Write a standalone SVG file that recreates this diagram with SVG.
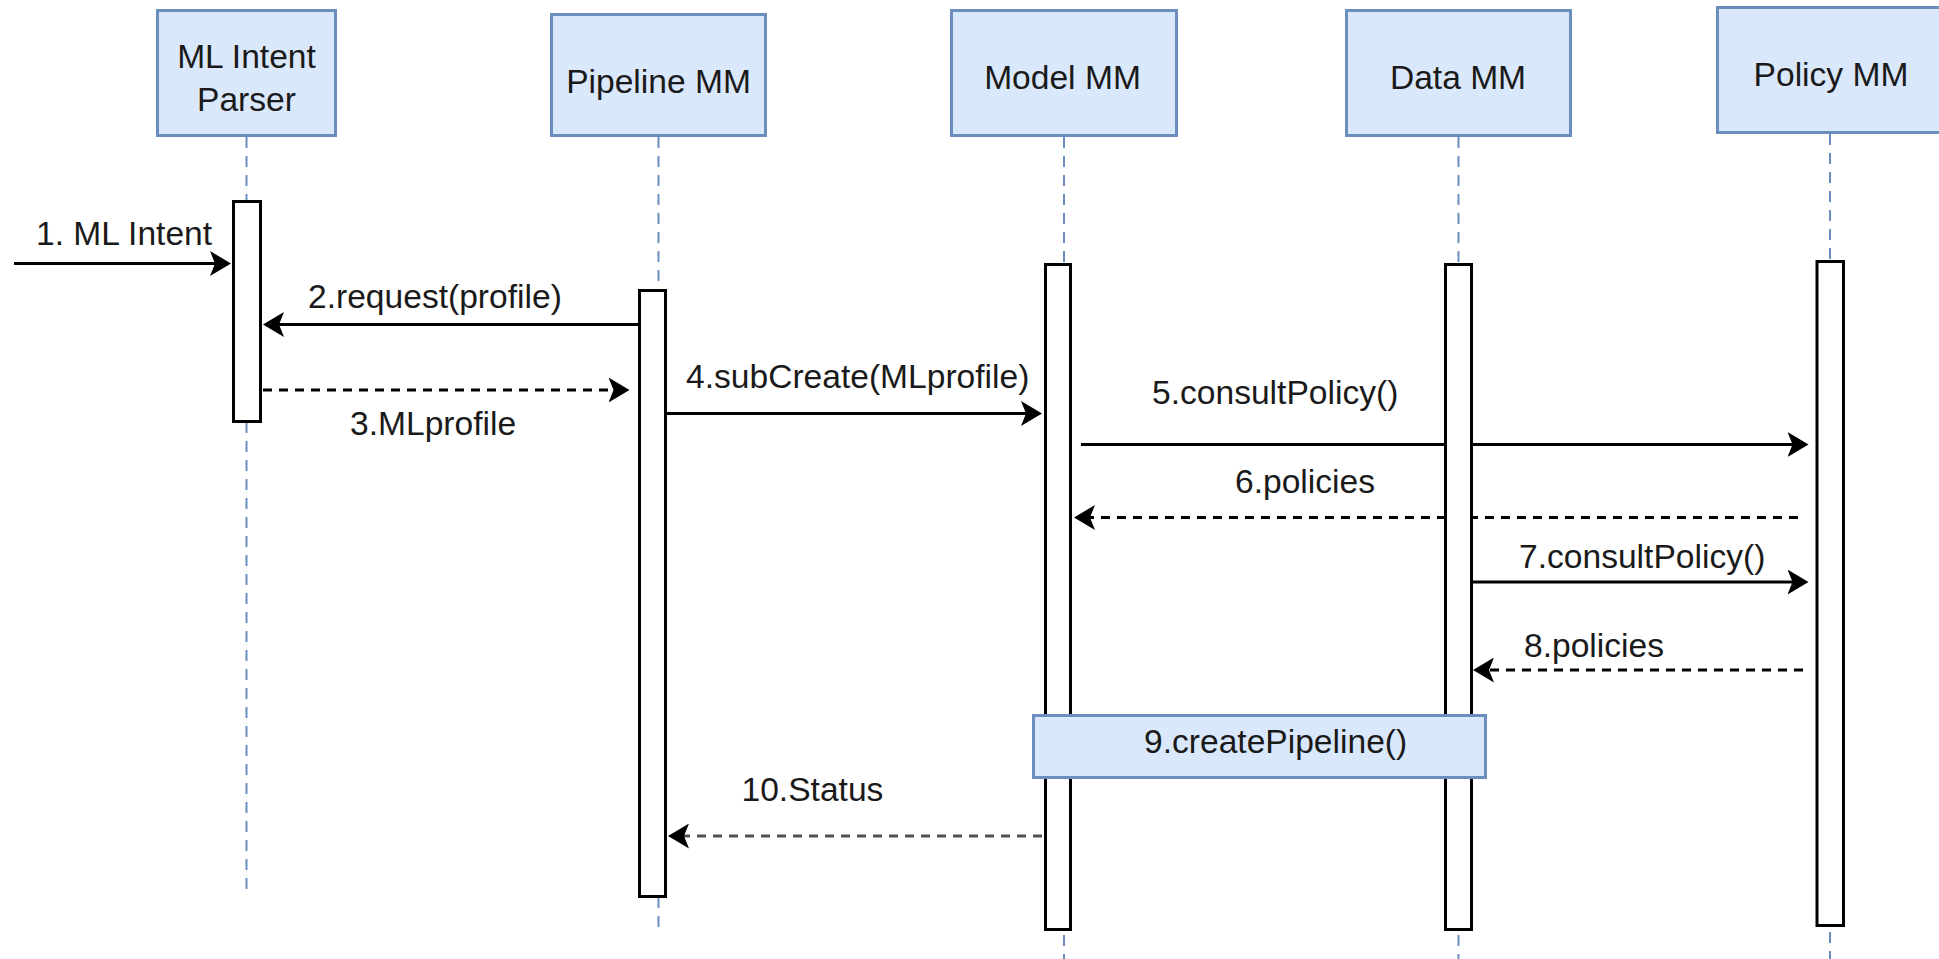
<svg xmlns="http://www.w3.org/2000/svg" width="1939" height="959" viewBox="0 0 1939 959">
<style>
.head{fill:#dae8fc;stroke:#6c8ebf;stroke-width:3}
.life{stroke:#6c8ebf;stroke-width:2;stroke-dasharray:11 8;fill:none}
.bar{fill:#fff;stroke:#000;stroke-width:3}
.t{font-family:"Liberation Sans",Arial,sans-serif;font-size:33.6px;fill:#1a1a1a}
.c{text-anchor:middle}
.msg{stroke:#000;stroke-width:3;fill:none}
.ret{stroke:#000;stroke-width:3;fill:none;stroke-dasharray:9 7}
</style>
<defs>
<marker id="arr" viewBox="0 0 21 25" markerWidth="21" markerHeight="25" refX="11" refY="12.5" orient="auto" markerUnits="userSpaceOnUse">
<path d="M0,0 L21,12.5 L0,25 L5,12.5 Z" fill="#000"/>
</marker>
</defs>
<rect width="1939" height="959" fill="#fff"/>
<g id="connectors">
<line class="msg" x1="14" y1="263.5" x2="221" y2="263.5" marker-end="url(#arr)"/>
<text class="t" x="36" y="245">1. ML Intent</text>
<line class="msg" x1="638" y1="324.5" x2="273" y2="324.5" marker-end="url(#arr)"/>
<text class="t" x="308" y="308">2.request(profile)</text>
<line class="ret" x1="263" y1="390" x2="619.5" y2="390" marker-end="url(#arr)"/>
<text class="t" x="350" y="435">3.MLprofile</text>
<line class="msg" x1="666" y1="413.5" x2="1032" y2="413.5" marker-end="url(#arr)"/>
<text class="t" x="686" y="388">4.subCreate(MLprofile)</text>
<line class="msg" x1="1081" y1="444.5" x2="1798.5" y2="444.5" marker-end="url(#arr)"/>
<text class="t" x="1152" y="404">5.consultPolicy()</text>
<line class="ret" x1="1798" y1="517.5" x2="1084" y2="517.5" marker-end="url(#arr)"/>
<text class="t" x="1235" y="493">6.policies</text>
<line class="msg" x1="1473" y1="582" x2="1798.5" y2="582" marker-end="url(#arr)"/>
<text class="t" x="1519" y="568">7.consultPolicy()</text>
<line class="ret" x1="1803" y1="670" x2="1483" y2="670" marker-end="url(#arr)"/>
<text class="t" x="1524" y="657">8.policies</text>
<line class="ret" x1="1042" y1="836" x2="678" y2="836" marker-end="url(#arr)" style="stroke:#505050"/>
<text class="t" x="741.5" y="801">10.Status</text>
</g>
<g id="ml-intent-parser">
<line class="life" x1="246.5" y1="137" x2="246.5" y2="890"/>
<rect class="bar" x="233.5" y="201.5" width="27" height="220"/>
<rect class="head" x="157.5" y="10.5" width="178" height="125"/>
<text class="t c" x="246.5" y="68">ML Intent</text>
<text class="t c" x="246.5" y="111">Parser</text>
</g>
<g id="pipeline-mm">
<line class="life" x1="658.5" y1="137" x2="658.5" y2="928"/>
<rect class="bar" x="639.5" y="290.5" width="26" height="606"/>
<rect class="head" x="551.5" y="14.5" width="214" height="121"/>
<text class="t c" x="658.5" y="93">Pipeline MM</text>
</g>
<g id="model-mm">
<line class="life" x1="1064" y1="137" x2="1064" y2="959"/>
<rect class="bar" x="1045.5" y="264.5" width="25" height="665"/>
<rect class="head" x="951.5" y="10.5" width="225" height="125"/>
<text class="t c" x="1062.5" y="89">Model MM</text>
</g>
<g id="data-mm">
<line class="life" x1="1458.5" y1="137" x2="1458.5" y2="959"/>
<rect class="bar" x="1445.5" y="264.5" width="26" height="665"/>
<rect class="head" x="1346.5" y="10.5" width="224" height="125"/>
<text class="t c" x="1458" y="89">Data MM</text>
</g>
<g id="policy-mm">
<line class="life" x1="1830" y1="134" x2="1830" y2="959"/>
<rect class="bar" x="1817" y="261.5" width="26.5" height="664"/>
<rect class="head" x="1717.5" y="7.5" width="225" height="125"/>
<text class="t c" x="1831" y="86">Policy MM</text>
</g>
<g id="create-pipeline">
<rect class="head" x="1033.5" y="715.5" width="452" height="62"/>
<text class="t" x="1144" y="753">9.createPipeline()</text>
</g>
</svg>
